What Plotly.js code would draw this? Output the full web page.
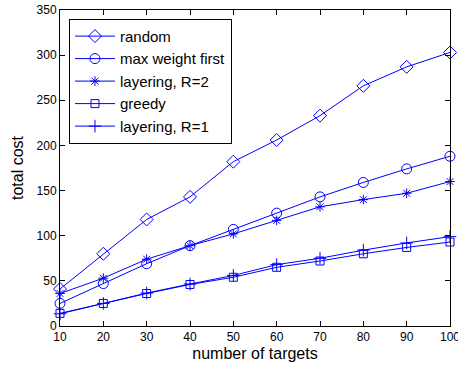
<!DOCTYPE html>
<html>
<head>
<meta charset="utf-8">
<script src="https://cdn.plot.ly/plotly-3.0.1.min.js"></script>
<style>html,body{margin:0;padding:0;background:#fff;}#chart{width:458px;height:366px;}</style>
</head>
<body>
<div id="chart"></div>
<script>
const targets = [10, 20, 30, 40, 50, 60, 70, 80, 90, 100];
const randomCost = [41, 80, 118, 143, 182, 206, 233, 266, 287, 303];
const maxWeightFirst = [25, 47, 69, 89, 107, 125, 143, 159, 174, 188];
const layeringR2 = [36, 53, 74, 89, 102, 117, 132, 140, 147, 160];
const greedy = [14, 25, 36, 46, 54, 65, 72, 80, 87, 93];
const layeringR1 = [13.5, 25, 36.5, 46.5, 56, 68, 75, 84, 92, 99];

const seriesNames = ["random", "max weight first", "layering, R=2", "greedy", "layering, R=1"];
const seriesData = [randomCost, maxWeightFirst, layeringR2, greedy, layeringR1];
const symbols = ["diamond-open", "circle-open", "asterisk-open", "square-open", "cross-thin-open"];
const sizes = [10, 10, 8, 8, 9];

const traces = seriesData.map((y, i) => ({
  x: targets, y: y, name: seriesNames[i], type: "scatter", mode: "lines+markers",
  line: {color: "#0000ff", width: 1},
  marker: {symbol: symbols[i], size: sizes[i], color: "#0000ff", line: {color: "#0000ff", width: 1}},
  cliponaxis: false
}));

const font = "Liberation Sans, Arial, Helvetica, sans-serif";
const layout = {
  width: 458, height: 366,
  margin: {l: 60, r: 8, t: 10, b: 40},
  paper_bgcolor: "#fff", plot_bgcolor: "#fff",
  font: {family: font, size: 12, color: "#000"},
  showlegend: true,
  legend: {
    x: 0.023, y: 0.972, xanchor: "left", yanchor: "top",
    bordercolor: "#000", borderwidth: 1, bgcolor: "#fff",
    font: {family: font, size: 15, color: "#000"},
    tracegroupgap: 0, itemwidth: 40
  },
  xaxis: {
    range: [10, 100], tickmode: "linear", tick0: 10, dtick: 10,
    ticks: "inside", ticklen: 5, tickcolor: "#000", showline: true, linecolor: "#000", linewidth: 1,
    mirror: "ticks", showgrid: false, zeroline: false, ticklabeloverflow: "allow",
    tickfont: {family: font, size: 12, color: "#000"},
    title: {text: "number of targets", font: {family: font, size: 16, color: "#000"}, standoff: 4}
  },
  yaxis: {
    range: [0, 350], tickmode: "linear", tick0: 0, dtick: 50,
    ticks: "inside", ticklen: 5, tickcolor: "#000", showline: true, linecolor: "#000", linewidth: 1,
    mirror: "ticks", showgrid: false, zeroline: false, ticklabeloverflow: "allow",
    tickfont: {family: font, size: 12, color: "#000"},
    title: {text: "total cost", font: {family: font, size: 16, color: "#000"}, standoff: 8}
  }
};
Plotly.newPlot("chart", traces, layout, {displayModeBar: false, staticPlot: true});
</script>
</body>
</html>
